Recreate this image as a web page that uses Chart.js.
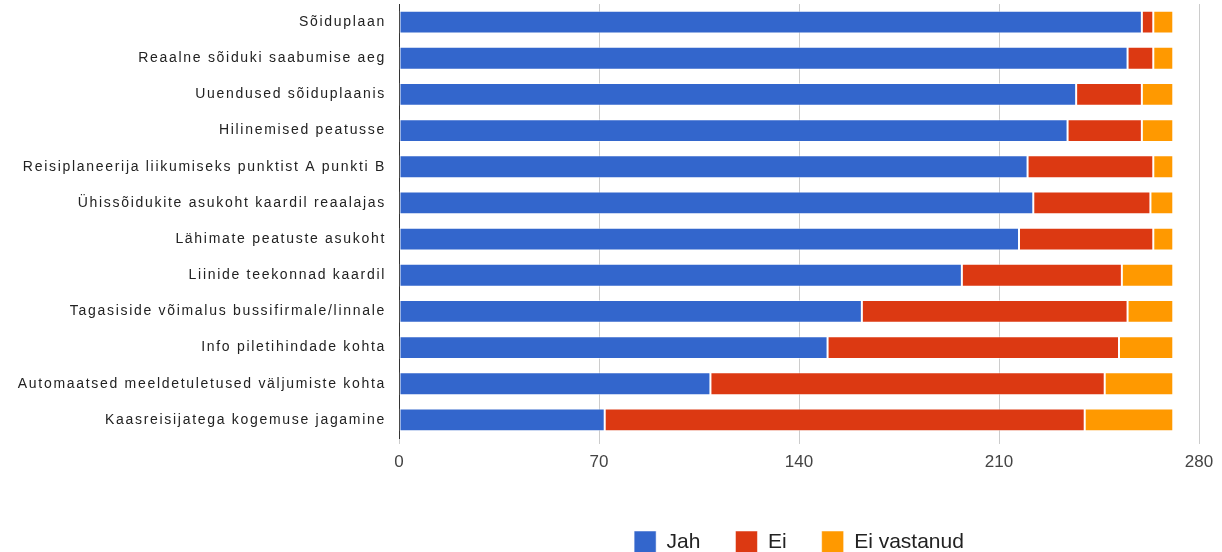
<!DOCTYPE html>
<html>
<head>
<meta charset="utf-8">
<script src="https://cdn.jsdelivr.net/npm/chart.js@4/dist/chart.umd.min.js"></script>
<style>
  html, body { margin: 0; padding: 0; background: #fff; }
  #wrap { width: 1222px; height: 552px; position: relative; }
</style>
</head>
<body>
<div id="wrap"><canvas id="c" width="1222" height="552"></canvas></div>
<script>
const categories = [
  "Sõiduplaan",
  "Reaalne sõiduki saabumise aeg",
  "Uuendused sõiduplaanis",
  "Hilinemised peatusse",
  "Reisiplaneerija liikumiseks punktist A punkti B",
  "Ühissõidukite asukoht kaardil reaalajas",
  "Lähimate peatuste asukoht",
  "Liinide teekonnad kaardil",
  "Tagasiside võimalus bussifirmale/linnale",
  "Info piletihindade kohta",
  "Automaatsed meeldetuletused väljumiste kohta",
  "Kaasreisijatega kogemuse jagamine"
];
const jah = [260, 255, 237, 234, 220, 222, 217, 197, 162, 150, 109, 72];
const ei = [4, 9, 23, 26, 44, 41, 47, 56, 93, 102, 138, 168];
const eiVastanud = [7, 7, 11, 11, 7, 8, 7, 18, 16, 19, 24, 31];
const seriesNames = ["Jah", "Ei", "Ei vastanud"];
const xTicks = [0, 70, 140, 210, 280];

const colors = ["#3366cc", "#dc3912", "#ff9900"];

const spacingPlugin = {
  id: 'ySpacing',
  afterLayout(chart) {
    const y = chart.scales.y;
    if (y && !y._spacedWrapped) {
      const orig = y.drawLabels;
      y.drawLabels = function(ca) {
        const c = this.ctx;
        c.save();
        c.letterSpacing = '1.7px';
        orig.call(this, ca);
        c.restore();
      };
      y._spacedWrapped = true;
    }
  }
};

new Chart(document.getElementById('c'), {
  type: 'bar',
  data: {
    labels: categories,
    datasets: [
      { label: seriesNames[0], data: jah, backgroundColor: colors[0], borderColor: 'rgba(255,255,255,0.5)', borderWidth: 1, borderSkipped: false },
      { label: seriesNames[1], data: ei, backgroundColor: colors[1], borderColor: 'rgba(255,255,255,0.5)', borderWidth: 1, borderSkipped: false },
      { label: seriesNames[2], data: eiVastanud, backgroundColor: colors[2], borderColor: 'rgba(255,255,255,0.5)', borderWidth: 1, borderSkipped: false }
    ]
  },
  plugins: [spacingPlugin],
  options: {
    indexAxis: 'y',
    responsive: false,
    animation: false,
    devicePixelRatio: 1,
    layout: { padding: { top: 4, right: 23, left: 0, bottom: -11 } },
    datasets: { bar: { categoryPercentage: 1, barPercentage: 0.63 } },
    plugins: {
      tooltip: { enabled: false },
      legend: {
        position: 'bottom',
        fullSize: false,
        labels: {
          boxWidth: 22,
          boxHeight: 22,
          padding: 35,
          color: '#222',
          font: { family: '"Liberation Sans", Arial, sans-serif', size: 21 }
        }
      }
    },
    scales: {
      x: {
        stacked: true,
        min: 0,
        max: 280,
        afterBuildTicks(scale) { scale.ticks = xTicks.map(v => ({ value: v })); },
        afterFit(scale) { scale.height = 58; },
        grid: { color: '#cccccc', drawTicks: true, tickLength: 6, tickColor: '#cccccc' },
        border: { display: false },
        ticks: {
          color: '#444',
          padding: 8,
          font: { family: '"Liberation Sans", Arial, sans-serif', size: 17 }
        }
      },
      y: {
        stacked: true,
        afterFit(scale) { scale.width = 399; scale.paddingTop = 0; scale.paddingBottom = 0; },
        grid: { display: false },
        border: { display: true, color: '#333', width: 1 },
        ticks: {
          color: '#222',
          padding: 5,
          font: { family: '"Liberation Sans", Arial, sans-serif', size: 14 }
        }
      }
    }
  }
});
</script>
</body>
</html>
